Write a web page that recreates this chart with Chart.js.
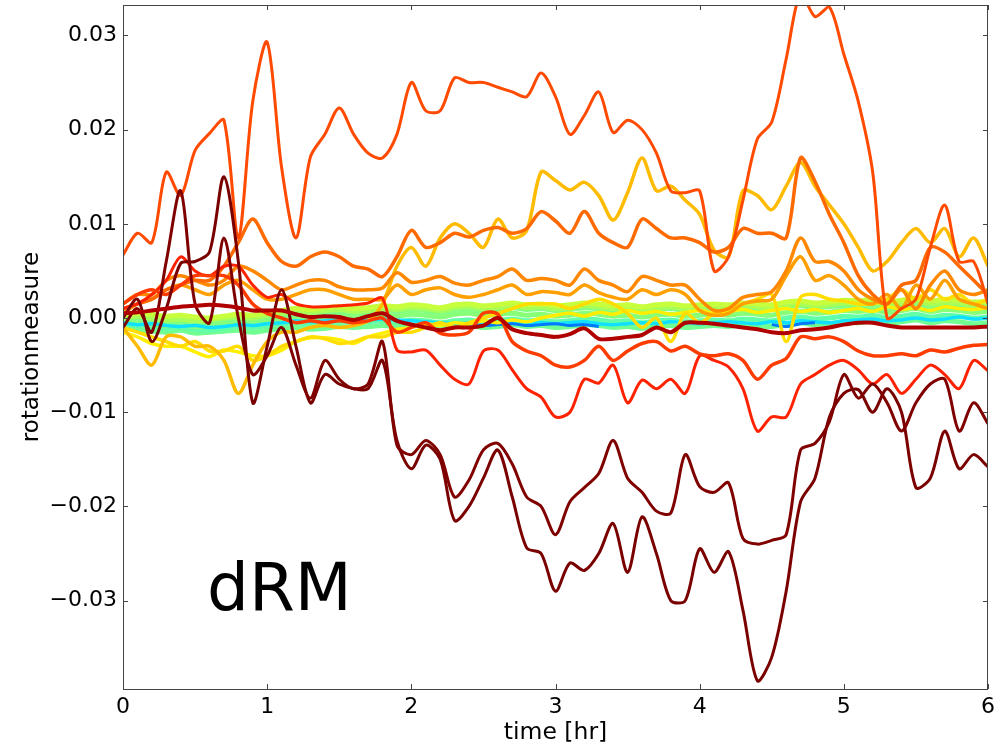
<!DOCTYPE html>
<html>
<head>
<meta charset="utf-8">
<title>dRM</title>
<script src="https://cdn.jsdelivr.net/npm/chart.js"></script>
<style>
  html, body { margin: 0; padding: 0; background: #fff; }
  canvas { display: block; }
</style>
</head>
<body>
<canvas id="rmChart" width="995" height="749"></canvas>
<script>
// sample times in hours
const hours = [
  0.0, 0.1, 0.2, 0.3, 0.4, 0.5, 0.6, 0.7, 0.8, 0.9,
  1.0, 1.1, 1.2, 1.3, 1.4, 1.5, 1.6, 1.7, 1.8, 1.9,
  2.0, 2.1, 2.2, 2.3, 2.4, 2.5, 2.6, 2.7, 2.8, 2.9,
  3.0, 3.1, 3.2, 3.3, 3.4, 3.5, 3.6, 3.7, 3.8, 3.9,
  4.0, 4.1, 4.2, 4.3, 4.4, 4.5, 4.6, 4.7, 4.8, 4.9,
  5.0, 5.1, 5.2, 5.3, 5.4, 5.5, 5.6, 5.7, 5.8, 5.9,
  6.0
];

// all series below are read in units of 1e-3
const RM_UNIT = 1e-3;

const nearZeroDark = [
  0.5, 0.6, 0.8, 1.0, 1.2, 1.3, 1.4, 1.3, 1.1, 0.8,
  0.8, 0.8, 0.4, 0.1, 0.2, 0.1, -0.2, 0.2, 0.5, -0.3,
  -0.7, -1.0, -1.3, -1.0, -1.0, -0.8, 0.0, -1.2, -1.6, -1.8,
  -2.0, -1.7, -1.1, -2.2, -2.2, -2.0, -1.8, -1.0, -1.5, -0.5,
  -0.5, -0.6, -0.8, -1.0, -1.2, -1.5, -1.6, -1.3, -1.2, -1.0,
  -0.7, -0.5, -0.5, -0.8, -1.0, -1.0, -1.0, -1.0, -1.0, -1.0,
  -0.9
];
const deepUpper = [
  -1.0, 1.0, -1.5, 6.0, 13.5, 1.5, -0.5, 8.5, 0.0, -6.0,
  -4.0, -1.0, -5.0, -8.5, -4.5, -6.5, -7.5, -7.0, -2.5, -13.5,
  -14.5, -13.0, -14.5, -19.0, -17.2, -14.0, -13.3, -15.5, -19.0, -20.0,
  -23.0, -19.5, -18.0, -16.5, -13.0, -17.0, -18.5, -20.5, -20.7, -14.5,
  -17.9, -18.5, -17.5, -23.4, -24.0, -23.6, -23.0, -14.0, -13.3, -11.0,
  -6.0, -8.5, -7.0, -9.0, -12.0, -9.0, -7.0, -6.5, -12.0, -9.0,
  -11.2
];
const deepLower = [
  0.0, 2.0, -2.5, 1.0, 5.8, 6.0, 7.0, 15.0, 6.0, -9.0,
  -3.0, 3.0, -3.0, -9.0, -6.0, -7.0, -7.5, -7.5, -4.5, -13.0,
  -16.0, -13.5, -15.0, -21.5, -20.0, -17.0, -14.0, -19.0, -24.4, -25.0,
  -29.0, -26.0, -26.8, -25.0, -21.8, -27.0, -21.1, -25.0, -30.0, -30.0,
  -24.5, -27.0, -24.8, -31.0, -38.5, -36.0, -29.0, -19.5, -17.0, -10.5,
  -8.0, -7.6, -10.0, -7.5, -10.0, -18.0, -17.0, -12.0, -16.0, -14.5,
  -15.8
];
const redLow = [
  1.0, 1.5, 2.5, 4.0, 6.5, 5.0, 4.5, 5.5, 5.5, 3.5,
  2.2, 2.5, 1.5, 1.2, 1.2, 1.3, 1.4, 1.6, 2.1, -3.4,
  -3.6, -3.4, -5.0, -6.5, -7.0, -3.5, -3.4, -5.5, -7.5, -8.4,
  -10.5, -10.0, -6.5, -6.9, -5.0, -9.0, -6.6, -7.5, -6.5, -8.0,
  -4.0, -4.5, -5.2, -7.5, -12.0, -10.5, -10.5, -7.0, -6.0, -5.0,
  -4.5, -5.5, -7.0, -6.0, -8.0, -6.5, -5.0, -6.0, -7.5, -4.5,
  -5.6
];
const redHigh = [
  1.5, 2.5, 3.0, 2.5, 3.5, 4.5, 4.5, 4.5, 3.5, 1.5,
  0.5, 0.0, -0.5, -0.3, -0.5, -0.3, -0.5, -0.3, 0.0, -1.5,
  -1.0, -0.5, -1.6, -1.8, -1.5, 0.5, 0.4, -2.5, -3.5, -4.0,
  -5.0, -5.2, -4.5, -3.0, -4.5, -3.5, -2.7, -2.5, -3.5, -3.0,
  -3.8, -4.0, -3.8, -4.5, -6.5, -5.0, -4.3, -2.0, -2.2, -2.0,
  -2.5, -3.5, -4.0, -4.0, -3.8, -4.0, -3.4, -3.6, -3.2, -2.9,
  -2.8
];
const topOrangeRed = [
  6.7, 9.0, 8.0, 15.5, 13.0, 17.8, 19.6, 21.0, 8.5, 23.0,
  29.3, 16.0, 8.5, 17.1, 19.5, 22.3, 19.5, 17.5, 17.0, 19.5,
  25.0, 22.0, 22.0, 25.5, 25.0, 25.0, 24.5, 24.0, 23.5, 26.0,
  23.5, 19.5, 21.5, 24.0, 19.7, 21.0, 20.0, 17.5, 13.5, 13.3,
  13.5, 5.0, 6.5, 12.5, 19.0, 20.8, 27.5, 34.5, 32.0, 33.0,
  28.0, 23.0, 15.5, 0.0, 1.0, 2.0, 7.5, 12.0, 6.0, 6.0,
  1.5
];
const darkOrange = [
  1.0, 1.5, 2.0, 3.0, 3.5, 4.0, 4.0, 5.5, 8.0, 10.5,
  8.0, 6.0, 5.5, 6.5, 7.0, 6.5, 5.5, 5.2, 4.4, 6.5,
  9.3, 7.5, 8.0, 9.0, 8.6, 9.3, 9.6, 9.0, 9.5, 11.3,
  10.3, 9.0, 11.3, 9.0, 8.0, 7.5, 10.5, 9.5, 8.5, 8.5,
  8.0, 7.0, 7.5, 9.5, 9.0, 9.0, 8.5, 17.0, 14.5, 11.0,
  8.0, 4.5, 2.5, 1.5, 3.5, 4.0, 7.5, 7.0, 5.5, 4.0,
  2.5
];
const orangeUpper = [
  1.5, 2.5, 2.5, 4.0, 4.5, 4.0, 3.5, 4.0, 5.5, 5.0,
  4.0, 3.0, 3.5, 4.0, 4.0, 3.3, 3.0, 3.0, 3.2, 4.8,
  3.8, 4.0, 4.4, 3.7, 3.5, 4.0, 4.4, 5.2, 4.0, 4.2,
  4.0, 3.5, 5.2, 4.0, 3.5, 2.8, 4.4, 4.0, 3.5, 3.5,
  2.0, 0.8, 1.0, 2.2, 2.5, 2.8, 5.0, 8.5, 6.0, 6.0,
  5.0, 3.0, 2.0, 1.5, 3.0, 1.0, 3.5, 5.0, 3.0, 2.5,
  3.0
];
const orangeLower = [
  0.5, 1.5, 2.0, 3.0, 3.5, 3.0, 2.5, 3.5, 4.0, 3.0,
  2.0, 2.0, 2.5, 3.0, 3.0, 2.5, 2.0, 2.0, 2.0, 3.5,
  2.5, 3.0, 3.2, 2.5, 2.2, 2.5, 3.0, 3.5, 2.5, 2.8,
  2.7, 2.5, 3.5, 2.7, 2.2, 2.0, 3.0, 2.5, 3.0, 2.5,
  0.8, 0.3, 0.5, 1.5, 1.8, 2.0, 4.5, 6.5, 4.0, 4.5,
  3.5, 2.0, 1.5, 2.5, 1.0, 3.5, 2.0, 4.0, 2.0, 1.5,
  1.0
];
const gold = [
  -1.0, -3.0, -5.0, -2.0, -2.0, -3.0, -3.0, -4.5, -8.0, -5.0,
  -2.5, -1.5, -1.5, -1.0, -0.8, -1.0, -0.8, -0.3, 1.5, 5.5,
  7.5, 5.5, 8.5, 10.0, 9.0, 7.5, 10.5, 8.5, 9.3, 15.5,
  14.6, 13.6, 14.4, 13.0, 10.4, 13.3, 17.0, 13.5, 14.0, 12.5,
  11.0, 7.2, 6.5, 13.5, 13.0, 11.5, 14.0, 16.5, 14.0, 12.0,
  10.0, 7.5, 5.0, 6.0, 8.0, 9.5, 8.0, 9.5, 6.5, 8.5,
  5.5
];
const yellowA = [
  -1.0, -1.5, -2.0, -2.5, -3.0, -2.5, -3.5, -3.5, -3.0, -4.5,
  -4.0, -3.0, -2.5, -2.0, -2.2, -2.7, -2.5, -2.0, -2.0, -1.5,
  -1.5, -1.0, -0.5, -1.0, -0.5, 0.0, 0.5, 1.0, 1.5, 1.5,
  1.5, 1.0, 1.5, 2.0, 1.5, 0.5, -1.0, 0.0, -2.5, 0.5,
  -0.5, 0.5, 1.0, 1.5, 2.0, 2.5, -2.5, 2.2, 2.5, 2.0,
  1.8, 1.5, 1.5, 2.0, 3.0, 2.0, 3.0, 2.0, 2.5, 1.5,
  2.0
];
const yellowB = [
  -1.5, -2.0, -2.7, -3.0, -3.0, -3.6, -4.1, -3.4, -3.6, -4.0,
  -4.0, -3.4, -2.5, -2.1, -2.1, -2.3, -2.7, -2.0, -1.6, -1.2,
  -1.0, -0.6, -0.8, -0.5, -0.6, -0.3, -0.5, -0.2, -0.4, 0.0,
  0.3, 0.5, 0.2, 0.6, 0.4, 0.8, 0.5, 0.7, 0.4, 0.6,
  0.8, 0.5, 0.7, 0.9, 0.6, 0.8, 1.0, 0.7, 0.9, 0.6,
  0.8, 1.0, 0.7, 1.2, 0.9, 1.1, 0.8, 1.2, 1.0, 0.9,
  1.1
];
// the green / cyan band around zero
const bandTop = [
  0.3, 0.5, 0.4, 0.2, 0.3, 0.1, 0.0, 0.2, 0.4, 0.3,
  0.6, 0.8, 1.0, 0.9, 1.1, 1.2, 1.0, 1.1, 1.3, 1.2,
  1.4, 1.3, 1.1, 1.4, 1.5, 1.3, 1.4, 1.6, 1.4, 1.5,
  1.3, 1.4, 1.6, 1.5, 1.3, 1.4, 1.2, 1.4, 1.5, 1.3,
  1.4, 1.5, 1.4, 1.6, 1.5, 1.4, 1.7, 1.8, 1.6, 1.7,
  1.9, 1.8, 2.0, 1.7, 1.9, 2.1, 1.8, 2.0, 1.9, 1.7,
  1.8
];
const bandUpperMid = [
  0.0, 0.2, 0.0, -0.2, -0.1, -0.3, -0.2, 0.0, 0.1, 0.0,
  0.3, 0.5, 0.7, 0.6, 0.8, 0.9, 0.7, 0.8, 1.0, 0.9,
  1.1, 1.0, 0.8, 1.1, 1.2, 1.0, 1.1, 1.3, 1.1, 1.2,
  1.0, 1.1, 1.3, 1.2, 1.0, 1.1, 0.9, 1.1, 1.2, 1.0,
  1.1, 1.2, 1.1, 1.3, 1.2, 1.1, 1.4, 1.5, 1.3, 1.4,
  1.6, 1.5, 1.7, 1.4, 1.6, 1.8, 1.5, 1.7, 1.6, 1.4,
  1.5
];
const bandLight = [
  -0.2, 0.0, -0.3, -0.5, -0.4, -0.6, -0.5, -0.3, -0.1, -0.2,
  0.1, 0.3, 0.4, 0.3, 0.5, 0.6, 0.5, 0.6, 0.8, 0.7,
  0.9, 0.8, 0.6, 0.9, 1.0, 0.8, 0.9, 1.1, 0.9, 1.0,
  0.8, 0.9, 1.1, 1.0, 0.8, 0.9, 0.7, 0.9, 1.0, 0.8,
  0.9, 1.0, 0.9, 1.1, 1.0, 0.9, 1.2, 1.3, 1.1, 1.2,
  1.3, 1.2, 1.4, 1.1, 1.3, 1.5, 1.2, 1.4, 1.3, 1.1,
  1.2
];
const bandMid = [
  -0.4, -0.5, -0.6, -0.8, -0.7, -0.9, -0.9, -0.7, -0.5, -0.6,
  -0.3, -0.1, 0.0, -0.1, 0.1, 0.2, 0.1, 0.2, 0.3, 0.2,
  0.4, 0.3, 0.1, 0.4, 0.5, 0.3, 0.4, 0.5, 0.3, 0.4,
  0.2, 0.3, 0.5, 0.4, 0.2, 0.3, 0.1, 0.3, 0.4, 0.2,
  0.3, 0.4, 0.3, 0.5, 0.4, 0.3, 0.6, 0.7, 0.5, 0.6,
  0.8, 0.7, 0.9, 0.6, 0.8, 1.0, 0.7, 0.9, 0.8, 0.6,
  0.7
];
const bandAqua = [
  -0.6, -0.8, -0.9, -1.1, -1.0, -1.2, -1.3, -1.1, -0.9, -1.0,
  -0.8, -0.6, -0.5, -0.7, -0.6, -0.4, -0.5, -0.4, -0.3, -0.4,
  -0.2, -0.3, -0.5, -0.3, -0.2, -0.4, -0.3, -0.1, -0.3, -0.2,
  -0.4, -0.3, -0.1, -0.2, -0.4, -0.3, -0.5, -0.3, -0.2, -0.4,
  -0.3, -0.2, -0.3, -0.1, -0.2, -0.3, 0.0, 0.1, -0.1, 0.0,
  0.2, 0.1, 0.3, 0.0, 0.2, 0.4, 0.1, 0.3, 0.2, 0.0,
  0.1
];
const bandLow = [
  -1.0, -1.2, -1.4, -1.5, -1.3, -1.6, -1.5, -1.4, -1.3, -1.5,
  -1.3, -1.1, -1.0, -1.2, -1.1, -0.9, -1.0, -0.9, -0.8, -0.9,
  -0.8, -0.9, -1.1, -0.9, -0.8, -1.0, -0.9, -0.7, -0.9, -0.8,
  -1.0, -0.9, -0.7, -0.8, -1.0, -0.9, -1.1, -0.9, -0.8, -1.0,
  -0.9, -0.8, -0.9, -0.7, -0.8, -0.9, -0.6, -0.5, -0.7, -0.6,
  -0.4, -0.5, -0.3, -0.6, -0.4, -0.2, -0.5, -0.3, -0.4, -0.6,
  -0.5
];
const bandCyan = [
  -0.5, -0.7, -0.6, -0.8, -0.9, -0.8, -1.0, -0.9, -0.7, -0.8,
  -0.6, -0.5, -0.3, -0.4, -0.3, -0.2, -0.3, -0.2, -0.1, -0.2,
  -0.3, -0.4, -0.5, -0.6, -0.5, -0.7, -0.6, -0.5, -0.6, -0.5,
  -0.6, -0.5, -0.4, -0.6, -0.7, -0.6, -0.5, -0.6, -0.4, -0.5,
  -0.6, -0.5, -0.4, -0.5, -0.6, -0.4, -0.5, -0.3, -0.4, -0.5,
  -0.3, -0.2, -0.1, -0.3, -0.2, 0.0, -0.2, -0.1, 0.1, -0.1,
  0.0
];
const bandBlue = [
  null, null, null, null, null, null, null, null, null, null,
  null, null, null, null, null, null, null, null, null, null,
  null, null, null, null, -0.6, -0.8, -0.7, -0.6, -0.8, -0.7,
  -0.6, -0.8, -0.7, -0.9, null, null, null, null, null, null,
  null, null, null, null, null, -0.7, -0.9, -0.6, -0.5, null,
  null, null, null, null, null, null, null, null, null, null,
  null
];

// axis
const Y_MIN = -0.03938;
const Y_MAX = 0.03323;
const yTicks = [-0.03, -0.02, -0.01, 0, 0.01, 0.02, 0.03];
const yTickLabels = ['\u22120.03', '\u22120.02', '\u22120.01', '0.00', '0.01', '0.02', '0.03'];
const TICK_LEN = 5;
const FONT = '"DejaVu Sans", "Liberation Sans", sans-serif';

// first in list = drawn on top
const seriesList = [
  { data: nearZeroDark, color: '#b00000', width: 4 },
  { data: deepUpper, color: '#800000', width: 3 },
  { data: deepLower, color: '#7a0000', width: 3 },
  { data: redHigh, color: '#ff3c00', width: 3.5 },
  { data: redLow, color: '#ff2200', width: 3 },
  { data: topOrangeRed, color: '#ff4a00', width: 3 },
  { data: darkOrange, color: '#ff6a00', width: 3.5 },
  { data: orangeUpper, color: '#ff8800', width: 3.5 },
  { data: orangeLower, color: '#ffa000', width: 3.5 },
  { data: gold, color: '#ffbb00', width: 3.5 },
  { data: yellowA, color: '#ffdd00', width: 3.5 },
  { data: yellowB, color: '#ffee00', width: 3.5 },
  { data: bandBlue, color: '#0078ff', width: 3 },
  { data: bandCyan, color: '#10e0ff', width: 3.5 },
  { data: bandTop, color: '#c8ff3c', width: 5 },
  { data: bandUpperMid, color: '#a8ff58', width: 5 },
  { data: bandLight, color: '#80ff80', width: 5 },
  { data: bandMid, color: '#88ff78', width: 5 },
  { data: bandAqua, color: '#60ffa8', width: 5 },
  { data: bandLow, color: '#70ff90', width: 5 }
];

const datasets = seriesList.map(s => ({
  data: hours.map((h, i) => ({ x: h, y: s.data[i] === null ? null : s.data[i] * RM_UNIT })),
  borderColor: s.color,
  borderWidth: s.width,
  pointRadius: 0,
  tension: 0.3,
  fill: false,
  spanGaps: false
}));

// box round the plot, inward ticks on every side, and the dRM label
const frameAndLabels = {
  id: 'frameAndLabels',
  afterDraw(chart) {
    const { ctx, chartArea: a, scales } = chart;
    ctx.save();
    ctx.strokeStyle = '#444';
    ctx.lineWidth = 1;
    ctx.strokeRect(a.left + 0.5, a.top + 0.5, a.right - a.left - 1, a.bottom - a.top);
    ctx.beginPath();
    scales.x.ticks.forEach(t => {
      const px = Math.round(scales.x.getPixelForValue(t.value)) + 0.5;
      ctx.moveTo(px, a.bottom); ctx.lineTo(px, a.bottom - TICK_LEN);
      ctx.moveTo(px, a.top); ctx.lineTo(px, a.top + TICK_LEN);
    });
    scales.y.ticks.forEach(t => {
      const py = Math.round(scales.y.getPixelForValue(t.value)) + 0.5;
      ctx.moveTo(a.left, py); ctx.lineTo(a.left + TICK_LEN, py);
      ctx.moveTo(a.right, py); ctx.lineTo(a.right - TICK_LEN, py);
    });
    ctx.stroke();

    ctx.fillStyle = '#000';
    ctx.font = '66px ' + FONT;
    ctx.textAlign = 'left';
    ctx.textBaseline = 'alphabetic';
    ctx.fillText('dRM', 207, 610);
    ctx.restore();
  }
};

const ctx = document.getElementById('rmChart').getContext('2d');
new Chart(ctx, {
  type: 'line',
  data: { datasets },
  options: {
    responsive: false,
    animation: false,
    layout: { padding: { left: 0, right: 7, top: 5, bottom: 0 } },
    plugins: {
      legend: { display: false },
      tooltip: { enabled: false }
    },
    scales: {
      x: {
        type: 'linear',
        min: 0,
        max: 6,
        grid: { display: false, drawTicks: false },
        border: { display: false },
        ticks: {
          stepSize: 1,
          padding: 5,
          maxRotation: 0,
          color: '#000',
          font: { family: FONT, size: 22 }
        },
        title: {
          display: true,
          text: 'time [hr]',
          color: '#000',
          font: { family: FONT, size: 23.5 },
          padding: { top: 0, bottom: 2 }
        },
        afterFit(scale) {
          scale.height = 60;
          scale.paddingLeft = 0;
          scale.paddingRight = 0;
        }
      },
      y: {
        type: 'linear',
        min: Y_MIN,
        max: Y_MAX,
        grid: { display: false, drawTicks: false },
        border: { display: false },
        afterBuildTicks(scale) {
          scale.ticks = yTicks.map(v => ({ value: v }));
        },
        ticks: {
          padding: 6,
          color: '#000',
          font: { family: FONT, size: 22 },
          callback: (v, i) => yTickLabels[i]
        },
        title: {
          display: true,
          text: 'rotationmeasure',
          color: '#000',
          font: { family: FONT, size: 23 },
          padding: { top: 18, bottom: 0 }
        },
        afterFit(scale) {
          scale.width = 123;
          scale.paddingTop = 0;
          scale.paddingBottom = 0;
        }
      }
    }
  },
  plugins: [frameAndLabels]
});
</script>
</body>
</html>
